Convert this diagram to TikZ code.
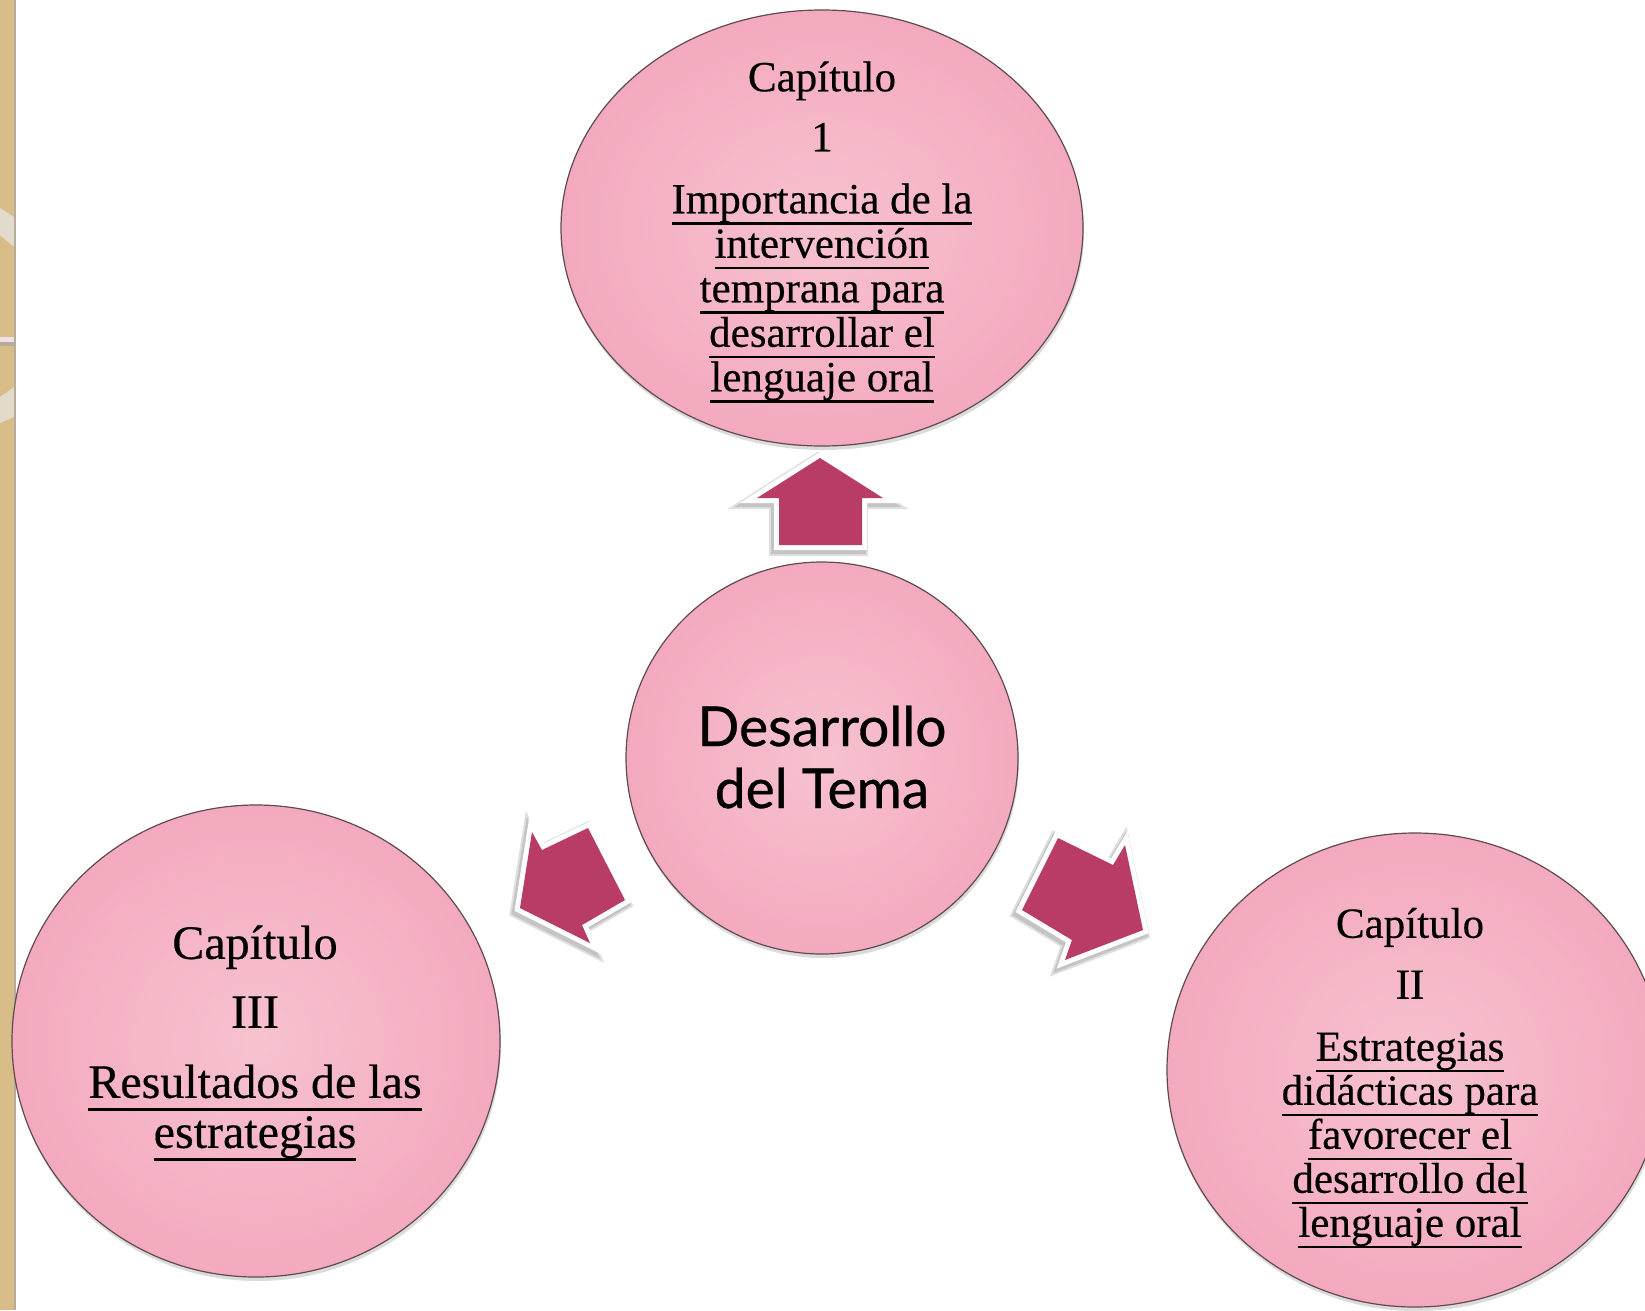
\documentclass[tikz,border=0pt]{standalone}
\usepackage{fontspec}
\setmainfont[FakeBold=0.35]{Liberation Serif}
\newfontfamily\gillfont[FakeBold=0.6]{Lato}
\newcommand{\ulin}[1]{\setbox0\hbox{#1}\rlap{\vrule width \wd0 height -0.205em depth 0.265em}\box0}
\usetikzlibrary{shapes.geometric,shadows}
\definecolor{pinkin}{HTML}{F7C2CF}
\definecolor{pinkout}{HTML}{F4AABE}
\definecolor{rimcol}{HTML}{5E4B50}
\definecolor{arrowcol}{HTML}{B83C66}
\definecolor{woodcol}{HTML}{D9BD88}
\definecolor{bandcol}{HTML}{E2DACB}
\definecolor{stripecol}{HTML}{F2DDE8}
\definecolor{edgecol}{HTML}{B5AC9C}
\begin{document}
\begin{tikzpicture}[x=1pt,y=-1pt,
  bubble/.style={ellipse, inner sep=0pt, draw=rimcol, line width=1.2pt,
    shading=radial, inner color=pinkin, outer color=pinkout,
    drop shadow={shadow xshift=1pt, shadow yshift=-4pt, opacity=0.28}},
  captext/.style={align=center, text=black, inner sep=0pt},
  arrowbox/.style={
    preaction={draw=black, opacity=0.12, line width=16pt, line join=miter, transform canvas={xshift=-2pt, yshift=-3pt}},
    preaction={draw=black, opacity=0.12, line width=12pt, line join=miter, transform canvas={xshift=-2pt, yshift=-3pt}},
    preaction={draw=white, line width=10pt, line join=miter}, fill=arrowcol}]
\useasboundingbox (0,0) rectangle (1645,1310);
\fill[white] (0,0) rectangle (1645,1310);
% left decorative strip
\fill[woodcol] (0,0) rectangle (14,1310);
\fill[bandcol] (0,208) -- (14,217) -- (14,247) -- (0,235) -- cycle;
\fill[bandcol] (0,397) -- (14,387) -- (14,417) -- (0,423) -- cycle;
\fill[stripecol] (0,337) rectangle (14,342);
\fill[edgecol] (0,342) rectangle (14,346);
\draw[edgecol, line width=2pt] (14.5,0) -- (14.5,1310);

% bubbles
\node[bubble, minimum width=522pt, minimum height=436pt] (top) at (822,228) {};
\node[bubble, minimum width=392pt, minimum height=392pt] (mid) at (822,758) {};
\node[bubble, minimum width=488pt, minimum height=472pt] (left) at (256,1041) {};
\node[bubble, minimum width=496pt, minimum height=474pt] (right) at (1415,1070) {};

% texts
\node[captext, font=\fontsize{43}{44.5}\selectfont] (toptext) at (822,232)
  {Capítulo\\[15.5pt] 1\\[17.5pt] \ulin{Importancia de la}\\ \ulin{intervención}\\ \ulin{temprana para}\\ \ulin{desarrollar el}\\ \ulin{lenguaje oral}};
\node[captext, font=\gillfont\fontsize{55}{62}\selectfont] (midtext) at (822,757)
  {Desarrollo\\ del Tema};
\node[captext, font=\fontsize{48}{50}\selectfont] (lefttext) at (255,1043)
  {Capítulo\\[19pt] III\\[20pt] \ulin{Resultados de las}\\ \ulin{estrategias}};
\node[captext, font=\fontsize{43}{44}\selectfont] (righttext) at (1410,1078)
  {Capítulo\\[17pt] II\\[18pt] \ulin{Estrategias}\\ \ulin{didácticas para}\\ \ulin{favorecer el}\\ \ulin{desarrollo del}\\ \ulin{lenguaje oral}};

% block arrows
\path[arrowbox] (820,458) -- (883,498) -- (862,498) -- (862,545) -- (779,545) -- (779,498) -- (757,498) -- cycle;
\path[arrowbox] (532,832) -- (542,850) -- (588,828) -- (625,900) -- (582,925) -- (590,943) -- (520,908) -- cycle;
\path[arrowbox] (1058,838) -- (1113,865) -- (1125,845) -- (1143,930) -- (1065,960) -- (1072,940) -- (1022,910) -- cycle;
\end{tikzpicture}
\end{document}
